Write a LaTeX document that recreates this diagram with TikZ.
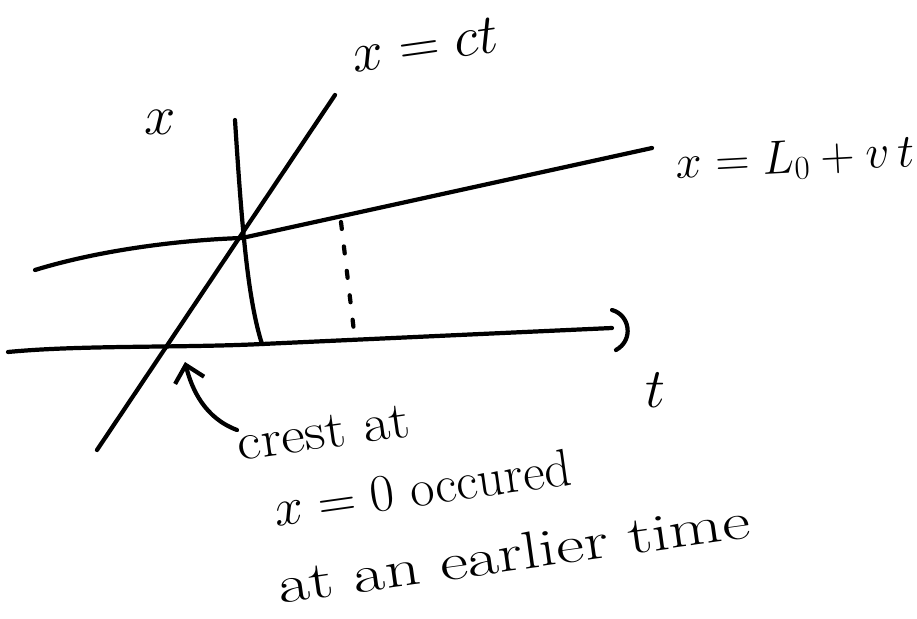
\RequirePackage{fix-cm}
\documentclass[tikz,border=0pt]{standalone}
\usepackage{tikz}
\usetikzlibrary{arrows.meta,positioning,calc}
\tikzset{
  stroke/.style={line width=2.4pt,line cap=round,line join=round},
  guide/.style={stroke,dash pattern=on 4pt off 10pt},
  hand/.style={font=\fontsize{30}{40}\selectfont,inner sep=0pt},
  handbig/.style={font=\fontsize{32}{40}\selectfont,inner sep=0pt},
  handsmall/.style={font=\fontsize{27}{34}\selectfont,inner sep=0pt},
  pointer/.style={stroke,-{Straight Barb[length=9pt,width=17pt,line width=2.4pt]}}
}

\begin{document}
\begin{tikzpicture}[x=0.02cm,y=-0.02cm]
\useasboundingbox (0,0) rectangle (917,619);

% axes
\coordinate (tstart) at (8,352);
\coordinate (origin) at (262,344);
\coordinate (tend) at (612,328);
\coordinate (xtop) at (235,120);

% world lines
\coordinate (ctlow) at (97,450);
\coordinate (cthigh) at (335,95);
\coordinate (crestleft) at (35,270);
\coordinate (crestmeet) at (242,238);
\coordinate (crestright) at (652,148);

% dotted guide
\coordinate (guidetop) at (341,222);
\coordinate (guidebot) at (355,340);

% arrow
\coordinate (arrowfrom) at (237,430);
\coordinate (crossing) at (185,362);

\node[handbig] (xlabel) at (160,122) {$x$};
\node[handbig] (tlabel) at (655,390) {$t$};
\node[handbig,rotate=8] (ctlabel) at (425,45) {$x = ct$};
\node[handsmall,rotate=3] (vlabel) at (795,160) {$x = L_0 + v\,t$};

\node[hand,rotate=8,anchor=north west,align=left] (note) at (235,428)
  {\scalebox{1.1}[1]{crest at}\\
   \hspace{0.55cm}$x = 0$ occured\\[4pt]
   \hspace{0.4cm}\scalebox{1.3}[1]{at an earlier time}};

\draw[stroke] (tstart) .. controls (80,345) and (180,348) .. (origin) -- (tend);
\draw[stroke] ($(tend)+(0,-18)$) .. controls ($(tend)+(18,-13)$) and ($(tend)+(22,12)$) .. ($(tend)+(4,22)$);
\draw[stroke] (xtop) .. controls (242,230) and (248,300) .. (origin);
\draw[stroke] (ctlow) -- (cthigh);
\draw[stroke] (crestleft) .. controls (100,250) and (180,240) .. (crestmeet) -- (crestright);
\draw[guide] (guidetop) -- (guidebot);
\draw[pointer] (arrowfrom) .. controls (205,418) and (192,390) .. (crossing);

\end{tikzpicture}
\end{document}
